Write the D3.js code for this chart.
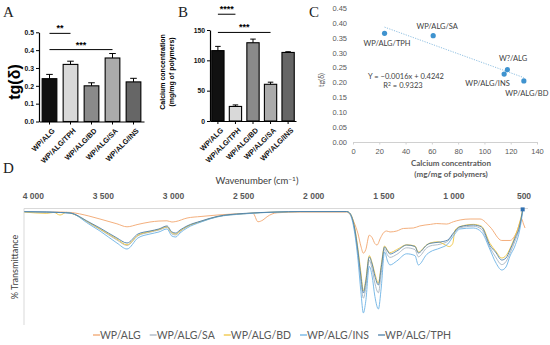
<!DOCTYPE html>
<html>
<head>
<meta charset="utf-8">
<script src="https://cdn.jsdelivr.net/npm/d3@7"></script>
<style>
  body { margin: 0; background: #fff; }
</style>
</head>
<body>
<div id="wrapper"></div>
<script>
// panels A and B
const samples = ["WP/ALG", "WP/ALG/TPH", "WP/ALG/BD", "WP/ALG/SA", "WP/ALG/INS"]
const tanDelta = [0.24, 0.32, 0.20, 0.356, 0.222]
const tanDeltaErr = [0.024, 0.018, 0.017, 0.025, 0.02]
const calcium = [116, 24, 129, 60.5, 113]
const calciumErr = [7, 2.5, 6, 3.5, 1.2]
const barFills = ["#111111", "#d9d9d9", "#8a8a8a", "#ababab", "#666666"]
const sigA = [{from: 0, to: 1, level: 0.494, label: "**"}, {from: 0, to: 3, level: 0.403, label: "***"}]
const sigB = [{from: 0, to: 1, level: 176, label: "****"}, {from: 0, to: 3, level: 146, label: "***"}]

// panel C
const scatterLabels = ["WP/ALG/TPH", "WP/ALG/SA", "W?/ALG", "WP/ALG/INS", "WP/ALG/BD"]
const scatterCa = [24, 61, 117.5, 115, 130]
const scatterTg = [0.365, 0.357, 0.243, 0.228, 0.205]
const fitSlope = -0.0016
const fitIntercept = 0.4242
const fitRange = [24, 130]

// panel D  [wavenumber, %T]
const specALG = [[4060,98.6],[3900,98.3],[3800,98.3],[3735,98],[3600,95],[3521,92.5],[3400,88.5],[3328,86],[3250,88],[3164,90],[3100,90.8],[3043,91],[3008,90],[2980,90.4],[2900,93.3],[2800,94.6],[2686,95.8],[2500,97],[2429,97.2],[2394,90.2],[2358,91.7],[2329,94.4],[2258,97.7],[2094,98.3],[1761,98.3],[1740,96.7],[1710,90],[1680,80],[1660,70],[1642,64],[1625,67],[1600,79],[1580,77],[1560,72],[1545,70.8],[1520,76.7],[1500,80.8],[1476,82.5],[1452,81.7],[1404,82.5],[1357,84.6],[1286,85],[1240,86.7],[1164,88],[1119,88.7],[1048,88.3],[1000,90.2],[952,91.7],[881,92.5],[810,92.5],[738,85.8],[655,74.6],[596,74.6],[548,81.7],[513,92.5],[500,88.3],[489,85]]
const specSA = [[4060,98.6],[3900,98.3],[3800,97.9],[3735,97.5],[3600,89.2],[3521,83.8],[3400,75],[3328,70.5],[3250,78.5],[3164,81.5],[3100,83.3],[3043,85.5],[3008,80],[2980,79.2],[2950,82],[2900,86],[2800,90.4],[2686,94.4],[2500,96.9],[2258,98.3],[2094,98.7],[1761,98.7],[1740,97.3],[1710,87],[1680,62],[1660,40],[1642,26.5],[1625,35],[1600,58],[1580,51],[1560,39],[1535,31],[1515,47],[1491,67.5],[1470,62.5],[1452,60.5],[1404,63],[1333,68.5],[1274,67],[1250,61],[1190,68.5],[1167,70],[1095,71.5],[1040,74],[1000,80],[953,85.2],[858,86.5],[800,84],[738,68.5],[700,61],[655,54.5],[625,57],[596,64],[561,74],[526,86.5],[506,99.5]]
const specBD = [[4060,98.3],[3900,97.2],[3850,98],[3806,95.8],[3760,98],[3735,97.5],[3600,89.6],[3521,84.2],[3400,75.8],[3328,71],[3250,79],[3164,82],[3100,83.8],[3043,86],[3008,81],[2980,80],[2950,82.5],[2900,86.2],[2800,90.4],[2686,94.4],[2500,96.9],[2258,98.3],[2094,98.7],[1761,98.7],[1740,97.5],[1710,89],[1680,67],[1660,48],[1642,32.5],[1625,42],[1600,62],[1580,56],[1560,47],[1535,39],[1515,54],[1491,70],[1470,66.5],[1452,64.5],[1404,67],[1333,71],[1274,70],[1250,65],[1190,71],[1167,72.5],[1110,73.5],[1060,71],[1030,69.5],[1005,72],[988,83.3],[953,86.2],[858,88],[800,86.5],[738,72],[700,66],[655,60],[625,62],[596,68],[561,78],[526,90],[506,100]]
const specINS = [[4060,98.6],[3900,98.3],[3800,97.9],[3735,97.5],[3600,88.3],[3521,82.5],[3400,72.5],[3328,67.5],[3250,76.7],[3164,80],[3100,81.7],[3043,84.2],[3008,78.3],[2980,77.5],[2950,80.8],[2900,85],[2800,90],[2686,94.2],[2500,96.7],[2258,98.3],[2094,98.7],[1761,98.7],[1740,97.1],[1710,85],[1680,58],[1660,32],[1642,14.2],[1625,24],[1600,53],[1580,45],[1560,28],[1535,17.5],[1515,35],[1491,65],[1470,57.5],[1452,54.2],[1404,57.5],[1333,63.5],[1274,62],[1250,54.2],[1190,63],[1167,65],[1095,68.3],[1040,71.7],[1000,78.3],[953,84.2],[858,85],[800,81.7],[738,66.7],[700,56.7],[655,50],[625,52.5],[596,61.7],[561,70],[526,84],[506,98.3]]
const specTPH = [[4060,98.6],[3900,98.3],[3800,97.9],[3735,97.5],[3600,90],[3521,85],[3400,76.7],[3328,72.5],[3250,80],[3164,82.5],[3100,84.2],[3043,86.7],[3008,81.7],[2980,80.8],[2950,83.3],[2900,86.7],[2800,90.8],[2686,94.6],[2500,97.1],[2258,98.3],[2094,98.7],[1761,98.7],[1740,97.5],[1710,88],[1680,65],[1660,45],[1642,30.8],[1625,40],[1600,60.8],[1580,55],[1560,45],[1535,37.5],[1515,52],[1491,69.2],[1470,65.8],[1452,63.3],[1404,65.8],[1333,70.8],[1274,69.6],[1250,64.2],[1190,70.8],[1167,72.2],[1095,73.3],[1040,75],[1000,80.8],[953,86.1],[858,87.5],[800,85.8],[738,70.2],[700,65],[655,58.3],[625,60],[596,66.7],[561,76.4],[526,87.5],[506,100.5]]
const spectraNames = ["WP/ALG", "WP/ALG/SA", "WP/ALG/BD", "WP/ALG/INS", "WP/ALG/TPH"]
const spectraColors = ["#f2a66e", "#a7b4c2", "#f0c540", "#6cb2e4", "#4d7fa8"]
const wnTicks = [4000, 3500, 3000, 2500, 2000, 1500, 1000, 500]

function drawFigure() {
    const svg = d3.select("#wrapper").append("svg")
        .attr("width", 550)
        .attr("height", 345)
        .style("font-family", "'Liberation Sans', Arial, sans-serif")

    // panel letters
    const letters = [["A", 3, 17], ["B", 178, 17], ["C", 309, 17], ["D", 3, 173]]
    svg.selectAll(".letter").data(letters).join("text")
        .attr("x", d => d[1]).attr("y", d => d[2])
        .style("font-family", "'Liberation Serif', 'Times New Roman', serif")
        .style("font-size", "15px")
        .attr("fill", "#222")
        .text(d => d[0])

    // bar panels
    function barPanel(opt) {
        const g = svg.append("g")
        const x = d3.scaleBand().domain(samples).range(opt.xRange).paddingInner(0.3).paddingOuter(opt.outer)
        const y = d3.scaleLinear().domain(opt.domain).range(opt.yRange)

        g.selectAll("rect").data(samples).join("rect")
            .attr("x", d => x(d))
            .attr("width", x.bandwidth())
            .attr("y", (d, i) => y(opt.values[i]))
            .attr("height", (d, i) => y(0) - y(opt.values[i]))
            .attr("fill", (d, i) => barFills[i])
            .attr("stroke", "#000")
            .attr("stroke-width", 1.1)

        // error bars (upper only)
        const cap = x.bandwidth() * 0.45
        samples.forEach((s, i) => {
            const cx = x(s) + x.bandwidth() / 2
            g.append("line").attr("x1", cx).attr("x2", cx)
                .attr("y1", y(opt.values[i])).attr("y2", y(opt.values[i] + opt.errs[i]))
                .attr("stroke", "#000").attr("stroke-width", 1)
            g.append("line").attr("x1", cx - cap / 2).attr("x2", cx + cap / 2)
                .attr("y1", y(opt.values[i] + opt.errs[i])).attr("y2", y(opt.values[i] + opt.errs[i]))
                .attr("stroke", "#000").attr("stroke-width", 1)
        })

        // significance lines
        opt.sig.forEach(s => {
            const x1 = x(samples[s.from]) + x.bandwidth() / 2
            const x2 = x(samples[s.to]) + x.bandwidth() / 2
            g.append("line").attr("x1", x1).attr("x2", x2)
                .attr("y1", y(s.level)).attr("y2", y(s.level))
                .attr("stroke", "#000").attr("stroke-width", 1)
            g.append("text").attr("x", (x1 + x2) / 2).attr("y", y(s.level) - 2)
                .attr("text-anchor", "middle")
                .style("font-size", "9px").style("font-weight", "bold")
                .text(s.label)
        })

        const yAxis = g.append("g")
            .attr("transform", `translate(${opt.xRange[0]},0)`)
            .call(d3.axisLeft(y).tickValues(opt.ticks).tickFormat(opt.fmt).tickSize(3).tickPadding(2).tickSizeOuter(0))
        const xAxis = g.append("g")
            .attr("transform", `translate(0,${opt.yRange[0]})`)
            .call(d3.axisBottom(x).tickSize(3).tickSizeOuter(0))
        ;[yAxis, xAxis].forEach(a => {
            a.select(".domain").attr("stroke-width", 1.2)
            a.selectAll("text").style("font-size", "6.8px").style("font-weight", "bold").attr("fill", "#111")
        })
        xAxis.selectAll("text")
            .style("font-size", "7.3px")
            .attr("x", 0).attr("y", 0).attr("dy", "0.35em")
            .attr("transform", "translate(4,8) rotate(-45)")
            .style("text-anchor", "end")
        return g
    }

    barPanel({
        xRange: [39, 144], outer: 0.15, yRange: [121.5, 32.3], domain: [0, 0.5],
        values: tanDelta, errs: tanDeltaErr, sig: sigA,
        ticks: [0, 0.1, 0.2, 0.3, 0.4, 0.5], fmt: d3.format(".1f")
    })
    svg.append("text")
        .attr("transform", "translate(20,82) rotate(-90)")
        .attr("text-anchor", "middle")
        .style("font-size", "16px").style("font-weight", "bold")
        .text("tg(δ)")

    barPanel({
        xRange: [210, 296], outer: 0.1, yRange: [121, 30], domain: [0, 150],
        values: calcium, errs: calciumErr, sig: sigB,
        ticks: [0, 50, 100, 150], fmt: d3.format("d")
    })
    const bLabel = svg.append("text")
        .attr("transform", "translate(165,72) rotate(-90)")
        .attr("text-anchor", "middle")
        .style("font-size", "7px").style("font-weight", "bold")
    bLabel.append("tspan").attr("x", 0).attr("dy", 0).text("Calcium concentration")
    bLabel.append("tspan").attr("x", 0).attr("dy", "1.25em").text("(mg/mg of polymers)")

    // panel C scatter
    const gC = svg.append("g").style("font-family", "Lato, 'Open Sans', sans-serif")
    const xC = d3.scaleLinear().domain([0, 140]).range([353, 537])
    const yC = d3.scaleLinear().domain([0, 0.45]).range([142, 8])

    const xAxC = gC.append("g").attr("transform", "translate(0,142)")
        .call(d3.axisBottom(xC).tickValues(d3.range(0, 141, 20)).tickSize(2.5).tickSizeOuter(0).tickPadding(4))
    xAxC.select(".domain").attr("stroke", "#d0d0d0")
    xAxC.selectAll(".tick line").attr("stroke", "#d0d0d0")
    xAxC.selectAll("text").style("font-size", "7.5px").attr("fill", "#595959")

    const yAxC = gC.append("g").attr("transform", "translate(347,0)")
        .call(d3.axisLeft(yC).tickValues(d3.range(0, 0.46, 0.05)).tickFormat(d3.format(".2f")).tickSize(0).tickPadding(0))
    yAxC.select(".domain").remove()
    yAxC.selectAll("text").style("font-size", "7.5px").attr("fill", "#595959")

    gC.append("text")
        .attr("transform", "translate(324,80) rotate(-90)")
        .attr("text-anchor", "middle")
        .style("font-size", "7px").attr("fill", "#595959")
        .text("tg(δ)")
    const cLabel = gC.append("text")
        .attr("text-anchor", "middle")
        .style("font-size", "8px").style("font-weight", "bold").attr("fill", "#595959")
    cLabel.append("tspan").attr("x", 451).attr("y", 166).text("Calcium concentration")
    cLabel.append("tspan").attr("x", 451).attr("y", 177).text("(mg/mg of polymers)")

    gC.append("line")
        .attr("x1", xC(fitRange[0])).attr("y1", yC(fitSlope * fitRange[0] + fitIntercept))
        .attr("x2", xC(fitRange[1])).attr("y2", yC(fitSlope * fitRange[1] + fitIntercept))
        .attr("stroke", "#8fc0e2").attr("stroke-width", 1).attr("stroke-dasharray", "1.2,1.3")

    gC.selectAll("circle").data(scatterCa).join("circle")
        .attr("cx", d => xC(d))
        .attr("cy", (d, i) => yC(scatterTg[i]))
        .attr("r", 2.6)
        .attr("fill", "#3f93cf")

    const labelOffsets = [[2.5, 12.7], [4, -6.7], [5.6, -8.6], [-16.6, 12], [3, 15]]
    gC.selectAll(".plabel").data(scatterLabels).join("text")
        .attr("x", (d, i) => xC(scatterCa[i]) + labelOffsets[i][0])
        .attr("y", (d, i) => yC(scatterTg[i]) + labelOffsets[i][1])
        .attr("text-anchor", "middle")
        .style("font-size", "7.5px").attr("fill", "#404040")
        .text(d => d)

    gC.append("text").attr("x", 406).attr("y", 79).attr("text-anchor", "middle")
        .style("font-size", "7.5px").attr("fill", "#404040")
        .text(`Y = −${Math.abs(fitSlope).toFixed(4)}x + ${fitIntercept.toFixed(4)}`)
    const r2 = gC.append("text").attr("x", 403).attr("y", 88).attr("text-anchor", "middle")
        .style("font-size", "7.5px").attr("fill", "#404040")
    r2.append("tspan").text("R")
    r2.append("tspan").attr("dy", -2.5).style("font-size", "5px").text("2")
    r2.append("tspan").attr("dy", 2.5).text(" = 0.9323")

    // panel D spectra
    const gD = svg.append("g").style("font-family", "Lato, 'Open Sans', sans-serif")
    const xD = d3.scaleLinear().domain([4000, 500]).range([32.8, 523.5])
    const yD = d3.scaleLinear().domain([0, 100]).range([330, 210])

    gD.append("line").attr("x1", 24).attr("x2", 528).attr("y1", 208.5).attr("y2", 208.5)
        .attr("stroke", "#d9d9d9").attr("stroke-width", 1.2)
    gD.append("line").attr("x1", 24).attr("x2", 24).attr("y1", 208.5).attr("y2", 325)
        .attr("stroke", "#d9d9d9").attr("stroke-width", 1)

    const xAxD = gD.append("g").attr("transform", "translate(0,208.5)")
        .call(d3.axisTop(xD).tickValues(wnTicks).tickSize(0).tickPadding(10)
            .tickFormat(d => d3.format(",")(d).replace(",", " ")))
    xAxD.select(".domain").remove()
    xAxD.selectAll("text").style("font-size", "8.5px").style("font-weight", "bold").attr("fill", "#595959")

    const wTitle = gD.append("text").attr("x", 257).attr("y", 184).attr("text-anchor", "middle")
        .style("font-size", "9.5px").attr("fill", "#404040")
    wTitle.append("tspan").text("Wavenumber (cm")
    wTitle.append("tspan").attr("dy", -3).style("font-size", "6.5px").text("−1")
    wTitle.append("tspan").attr("dy", 3).text(")")

    gD.append("text")
        .attr("transform", "translate(18,267) rotate(-90)")
        .attr("text-anchor", "middle")
        .style("font-size", "9px").attr("fill", "#404040")
        .text("% Transmittance")

    const lineD = d3.line().x(d => xD(d[0])).y(d => yD(d[1])).curve(d3.curveMonotoneX)
    const spectra = [specALG, specSA, specBD, specINS, specTPH]
    gD.selectAll(".spec").data(spectra).join("path")
        .attr("d", d => lineD(d))
        .attr("fill", "none")
        .attr("stroke", (d, i) => spectraColors[i])
        .attr("stroke-width", 0.9)

    const last = specTPH[specTPH.length - 1]
    gD.append("rect")
        .attr("x", xD(last[0]) - 2).attr("y", yD(last[1]) - 2)
        .attr("width", 4).attr("height", 4)
        .attr("fill", "#2f6fb0")

    // legend
    let lx = 93
    spectraNames.forEach((name, i) => {
        gD.append("line").attr("x1", lx).attr("x2", lx + 7).attr("y1", 335).attr("y2", 335)
            .attr("stroke", spectraColors[i]).attr("stroke-width", 1.3)
        const t = gD.append("text").attr("x", lx + 7).attr("y", 335).attr("dy", "0.35em")
            .style("font-size", "10.5px").attr("fill", "#595959")
            .text(name)
        lx += 7 + t.node().getComputedTextLength() + 9
    })
}
drawFigure()
</script>
</body>
</html>
